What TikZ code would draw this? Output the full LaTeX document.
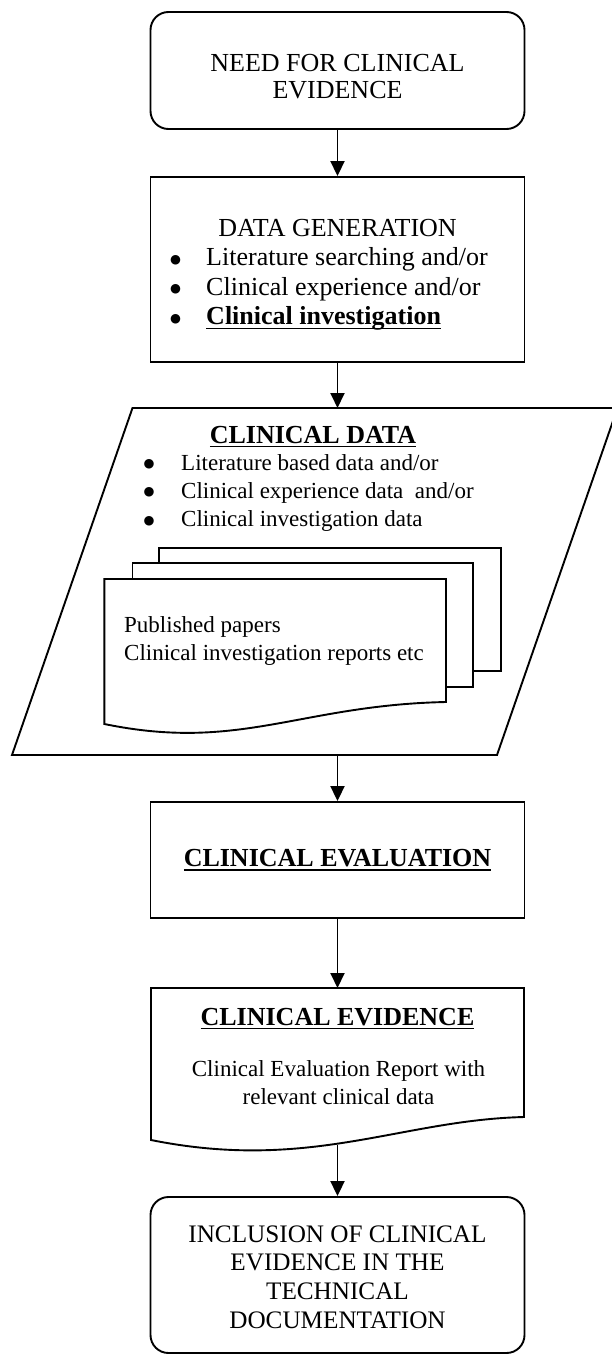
\documentclass[tikz,border=0pt]{standalone}
\usepackage{fontspec}
\setmainfont{Liberation Serif}
\newfontfamily\dotfont{DejaVu Sans}
\usetikzlibrary{arrows.meta, positioning}

\newcommand{\bigtxt}{\fontsize{26}{28.5}\selectfont}
\newcommand{\smalltxt}{\fontsize{23}{28.4}\selectfont}
\newsavebox\ulinebox
\newcommand{\ulined}[1]{\sbox\ulinebox{#1}\rlap{\rule[-4.4pt]{\wd\ulinebox}{1.8pt}}\usebox\ulinebox}
\newcommand{\headtxt}[1]{\ulined{\textbf{#1}}}
\newcommand{\bdot}{\raisebox{\dimexpr 6.5pt-0.5\height\relax}{\dotfont\fontsize{12.5}{12.5}\selectfont ●}}
\newcommand{\bitem}[2][36pt]{\makebox[#1][l]{\bdot}#2}

\tikzstyle{startstop} = [rectangle, rounded corners=18pt, minimum width=374pt, draw=black, line width=1.9pt, align=center, font=\bigtxt]
\tikzstyle{process} = [rectangle, minimum width=374pt, draw=black, line width=1.9pt, align=center, font=\bigtxt]
\tikzset{
	frame/.style={draw=black, line width=1.9pt, fill=white},
	txt/.style={inner sep=0pt, anchor=base west},
	arrow/.style={line width=1.9pt, -{Triangle[width=14pt,length=15pt]}}
}

\begin{document}
\begin{tikzpicture}[x=1pt, y=-1pt]
	\useasboundingbox (0,0) rectangle (611,1356);
	
	% Nodes
	\node (need) [startstop, minimum height=117pt, text height=56pt, font=\fontsize{26}{27}\selectfont] at (337.5,70.5) {NEED FOR CLINICAL\\EVIDENCE};
	\node (gen) [process, minimum height=185pt] at (337.5,269.5) {\fontsize{26}{29.6}\selectfont
		\begin{tabular}{@{}l@{\hspace{17pt}}}
			\multicolumn{1}{@{}c@{}}{\rule{0pt}{31pt}DATA GENERATION}\\
			\bitem{Literature searching and/or}\\
			\bitem{Clinical experience and/or}\\
			\bitem{\ulined{\textbf{Clinical investigation}}}
		\end{tabular}};
	
	% Clinical data (parallelogram with stack of papers)
	\draw [frame] (12,755) -- (497,755) -- (617.5,408) -- (132.5,408) -- cycle;
	\coordinate (datatop) at (337.5,408);
	\coordinate (databot) at (337.5,755);
	\node (datahead) [inner sep=0pt, anchor=base] at (313,443) {\bigtxt\headtxt{CLINICAL DATA}};
	\node (datalist) [txt] at (143.5,470) {\smalltxt
		\begin{tabular}[t]{@{}l@{}}
			\bitem[37.5pt]{Literature based data and/or}\\
			\bitem[37.5pt]{Clinical experience data\ \ and/or}\\
			\bitem[37.5pt]{Clinical investigation data}
		\end{tabular}};
	\draw [frame] (159,548) rectangle (501,671);
	\draw [frame] (132.5,563) rectangle (473,687);
	\draw [frame] (104.4,579) -- (446,579) -- (446,702) .. controls (300,705) and (240,752) .. (104.4,724) -- cycle;
	\node (papers) [txt] at (124,632) {\smalltxt
		\begin{tabular}[t]{@{}l@{}}
			Published papers\\
			Clinical investigation reports etc
		\end{tabular}};
	
	\node (eval) [process, minimum height=116pt] at (337.5,860) {\headtxt{CLINICAL EVALUATION}};
	
	% Clinical evidence (document shape)
	\draw [frame] (151,988) -- (524,988) -- (524,1117) .. controls (400,1120) and (310,1172) .. (151,1140) -- cycle;
	\coordinate (evidtop) at (337.5,988);
	\coordinate (evidbot) at (337.5,1145);
	\node (evidhead) [inner sep=0pt, anchor=base] at (337.5,1025) {\bigtxt\headtxt{CLINICAL EVIDENCE}};
	\node (evidbody) [inner sep=0pt, anchor=base] at (338.5,1076) {\smalltxt
		\begin{tabular}[t]{@{}c@{}}
			Clinical Evaluation Report with\\
			relevant clinical data
		\end{tabular}};
	
	\node (final) [startstop, minimum height=156pt, text height=107pt, font=\fontsize{25.2}{28.7}\selectfont] at (337.5,1275) {INCLUSION OF CLINICAL\\EVIDENCE IN THE\\TECHNICAL\\DOCUMENTATION};
	
	% Arrows
	\draw [arrow] (need) -- (gen);
	\draw [arrow] (gen) -- (datatop);
	\draw [arrow] (databot) -- (eval);
	\draw [arrow] (eval) -- (evidtop);
	\draw [arrow] (evidbot) -- (final);
	
\end{tikzpicture}
\end{document}
